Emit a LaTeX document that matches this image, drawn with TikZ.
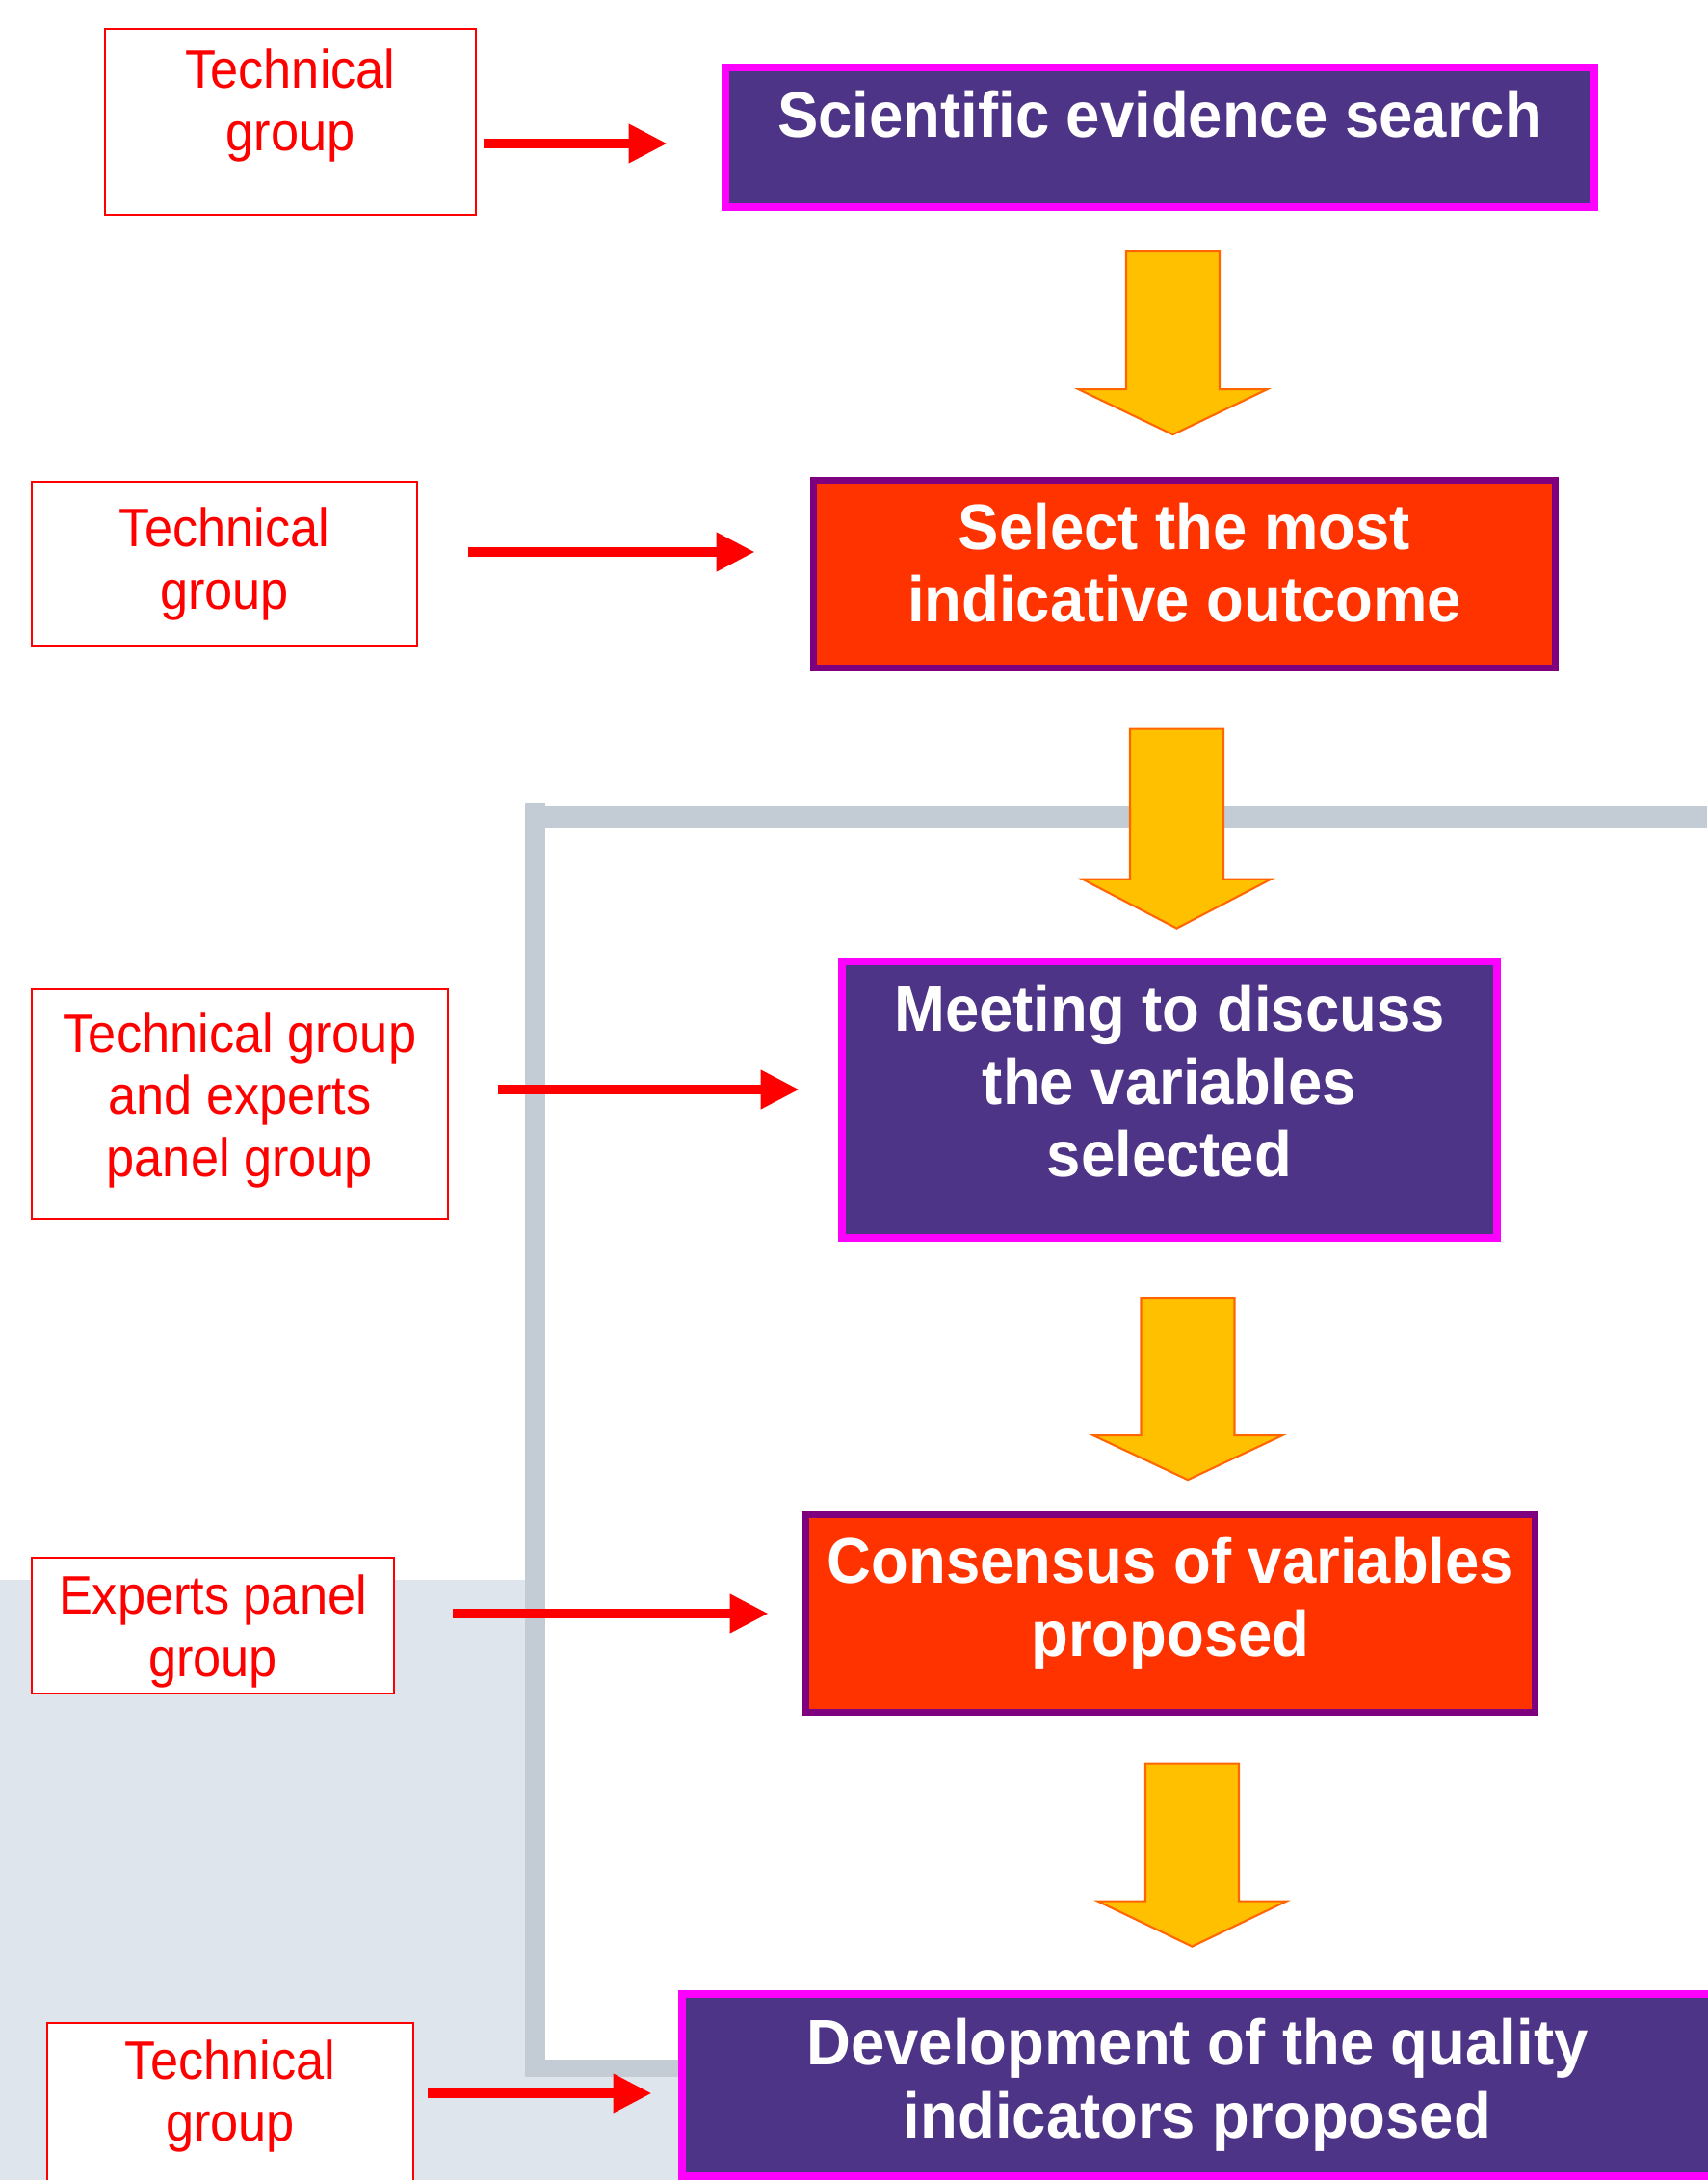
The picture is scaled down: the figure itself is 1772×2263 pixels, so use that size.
\documentclass[tikz,border=0pt]{standalone}
\usepackage{fontspec}
\setmainfont{Liberation Sans}
\newfontfamily\groupfont[FakeStretch=0.93]{Liberation Sans}
\newfontfamily\stagefont[FakeStretch=0.95]{Liberation Sans}
\usepackage{xcolor}
\usetikzlibrary{arrows.meta,calc}
\definecolor{StagePurple}{HTML}{4E3486}
\definecolor{StageMagenta}{HTML}{FF00FF}
\definecolor{StageOrange}{HTML}{FF3300}
\definecolor{StagePlum}{HTML}{7F007F}
\definecolor{GroupRed}{HTML}{FF0000}
\definecolor{ArrowGold}{HTML}{FFC000}
\definecolor{ArrowEdge}{HTML}{FF6600}
\definecolor{FrameGray}{HTML}{C3CCD5}
\definecolor{ShadeGray}{HTML}{DFE5EC}

% block arrow: top centre, shaft length, head length
\newcommand{\goldarrow}[3]{%
  \draw[goldarrow] ($#1+(-48.5,0)$) -- ++(97,0) -- ++(0,#2) -- ++(49.5,0)
    -- ++(-98,#3) -- ++(-98,-#3) -- ++(49.5,0) -- cycle;}

\begin{document}
\begin{tikzpicture}[x=0.01cm,y=-0.01cm,
    groupbox/.style={draw=GroupRed, line width=0.6pt, fill=white, align=center,
      text=GroupRed, font=\groupfont\fontsize{16}{18.3}\selectfont, inner sep=0pt},
    stagebox/.style={line width=2.3pt, align=center, text=white,
      font=\stagefont\bfseries\fontsize{19}{21.5}\selectfont, inner sep=0pt},
    purplebox/.style={stagebox, draw=StageMagenta, fill=StagePurple},
    orangebox/.style={stagebox, draw=StagePlum, fill=StageOrange, line width=2pt},
    redarrow/.style={draw=GroupRed, line width=2.85pt, -{Triangle[length=11.4pt,width=10.8pt]}},
    goldarrow/.style={draw=ArrowEdge, fill=ArrowGold, line width=0.6pt}]
  \useasboundingbox (0,0) rectangle (1772,2263);

  % background frame
  \fill[ShadeGray] (0,1640) rectangle (545,2263);
  \fill[ShadeGray] (545,2156) rectangle (710,2263);
  \fill[FrameGray] (545,834) rectangle (566,2156);
  \fill[FrameGray] (545,837) rectangle (1772,860);
  \fill[FrameGray] (545,2138) rectangle (710,2156);

  % who does it
  \node[groupbox, minimum width=3.85cm, minimum height=1.93cm, text depth=13pt] (l1) at (301.5,126.5) {Technical\\group};
  \node[groupbox, minimum width=4.00cm, minimum height=1.71cm] (l2) at (233,585.5) {Technical\\group};
  \node[groupbox, minimum width=4.32cm, minimum height=2.38cm, text depth=5.5pt] (l3) at (249,1146) {Technical group\\and experts\\panel group};
  \node[groupbox, minimum width=3.76cm, minimum height=1.41cm, text depth=-2.4pt] (l4) at (221,1687.5) {Experts panel\\group};
  \node[groupbox, minimum width=3.80cm, minimum height=2.00cm, text depth=17pt] (l5) at (239,2200) {Technical\\group};

  % stages
  \node[purplebox, minimum width=9.02cm, minimum height=1.45cm, text depth=14pt] (r1) at (1204,142.5) {Scientific evidence search};
  \node[orangebox, minimum width=7.70cm, minimum height=1.95cm, text depth=7pt] (r2) at (1229.5,596) {Select the most\\indicative outcome};
  \node[purplebox, minimum width=6.80cm, minimum height=2.87cm, text depth=11pt] (r3) at (1214,1141.5) {Meeting to discuss\\the variables\\selected};
  \node[orangebox, minimum width=7.57cm, minimum height=2.05cm, text depth=10pt] (r4) at (1215,1675) {Consensus of variables\\proposed};
  \node[purplebox, minimum width=10.70cm, minimum height=1.89cm] (r5) at (1243,2164.5) {Development of the quality\\indicators proposed};

  \draw[redarrow] ($(l1.east)+(7,22.5)$) -- ($(r1.west)+(-56,6.5)$);
  \draw[redarrow] ($(l2.east)+(52,-12.5)$) -- ($(r2.west)+(-57,-23)$);
  \draw[redarrow] ($(l3.east)+(51,-15)$) -- ($(r3.west)+(-40,-10.5)$);
  \draw[redarrow] ($(l4.east)+(60,-12.5)$) -- ($(r4.west)+(-35,0)$);
  \draw[redarrow] ($(l5.east)+(14,-27)$) -- ($(r5.west)+(-27,8.5)$);

  \goldarrow{(r1.south)+(13.5,42)}{143}{47}
  \goldarrow{(r2.south)+(-8,59.5)}{156}{51}
  \goldarrow{(r3.south)+(19,58)}{143}{46}
  \goldarrow{(r4.south)+(22.5,49.5)}{143}{47}
\end{tikzpicture}
\end{document}
